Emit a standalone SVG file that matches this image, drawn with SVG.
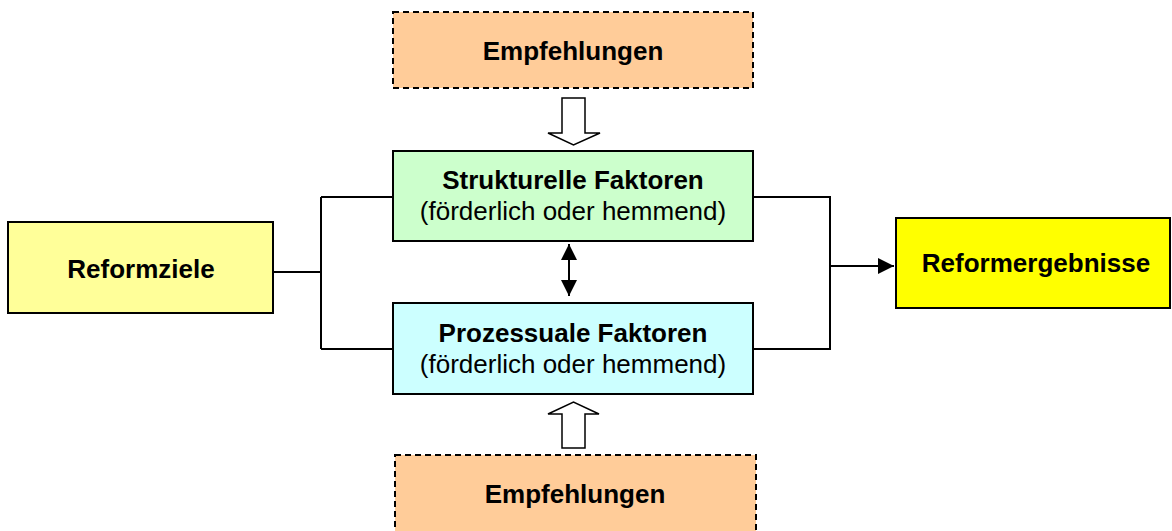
<svg xmlns="http://www.w3.org/2000/svg" width="1172" height="531" viewBox="0 0 1172 531">
<style>
.box{stroke:#000;stroke-width:2}
.dash{stroke-dasharray:6 4}
.b{font-family:"Liberation Sans",Arial,sans-serif;font-size:26px;font-weight:bold;text-anchor:middle;fill:#000}
.r{font-family:"Liberation Sans",Arial,sans-serif;font-size:26px;text-anchor:middle;fill:#000}
.ln{stroke:#000;stroke-width:2;fill:none}
.hollow{fill:#fff;stroke:#000;stroke-width:1.5}
</style>
<defs>
<marker id="ah" viewBox="0 0 10 10" refX="10" refY="5" markerWidth="8" markerHeight="8" markerUnits="userSpaceOnUse" orient="auto-start-reverse">
<path d="M0,0 L10,5 L0,10 Z" fill="#000"/>
</marker>
<marker id="ah2" viewBox="0 0 16 16" refX="16" refY="8" markerWidth="16" markerHeight="16" markerUnits="userSpaceOnUse" orient="auto-start-reverse">
<path d="M0,0 L16,8 L0,16 Z" fill="#000"/>
</marker>
</defs>
<rect width="1172" height="531" fill="#fff"/>
<g id="connectors">
<path class="ln" d="M273,272 H321 M321,197 V349 M321,197 H393 M321,349 H393"/>
<path class="ln" d="M753,197 H830 V349 H753"/>
<line class="ln" x1="830" y1="266" x2="894" y2="266" marker-end="url(#ah2)"/>
<line class="ln" x1="569" y1="244" x2="569" y2="296" marker-start="url(#ah2)" marker-end="url(#ah2)"/>
<path class="hollow" d="M562,98 H585 V133 H600 L573.5,145 L548,133 H562 Z"/>
<path class="hollow" d="M562,448 H585 V414 H599 L573.5,402 L548,414 H562 Z"/>
</g>
<g id="empfehlungen-top">
<rect class="box dash" x="393" y="12" width="360" height="76" fill="#FFCC99"/>
<text class="b" x="573" y="60">Empfehlungen</text>
</g>
<g id="strukturelle">
<rect class="box" x="393" y="151" width="360" height="90" fill="#CCFFCC"/>
<text class="b" x="573" y="189">Strukturelle Faktoren</text>
<text class="r" x="573" y="220">(förderlich oder hemmend)</text>
</g>
<g id="prozessuale">
<rect class="box" x="393" y="303" width="360" height="91" fill="#CCFFFF"/>
<text class="b" x="573" y="342">Prozessuale Faktoren</text>
<text class="r" x="573" y="373">(förderlich oder hemmend)</text>
</g>
<g id="empfehlungen-bottom">
<rect class="box dash" x="395" y="455" width="361" height="90" fill="#FFCC99"/>
<text class="b" x="575" y="503">Empfehlungen</text>
</g>
<g id="reformziele">
<rect class="box" x="8" y="222" width="265" height="91" fill="#FFFF99"/>
<text class="b" x="141" y="278">Reformziele</text>
</g>
<g id="reformergebnisse">
<rect class="box" x="896" y="218" width="274" height="90" fill="#FFFF00"/>
<text class="b" x="1036" y="272">Reformergebnisse</text>
</g>
</svg>
